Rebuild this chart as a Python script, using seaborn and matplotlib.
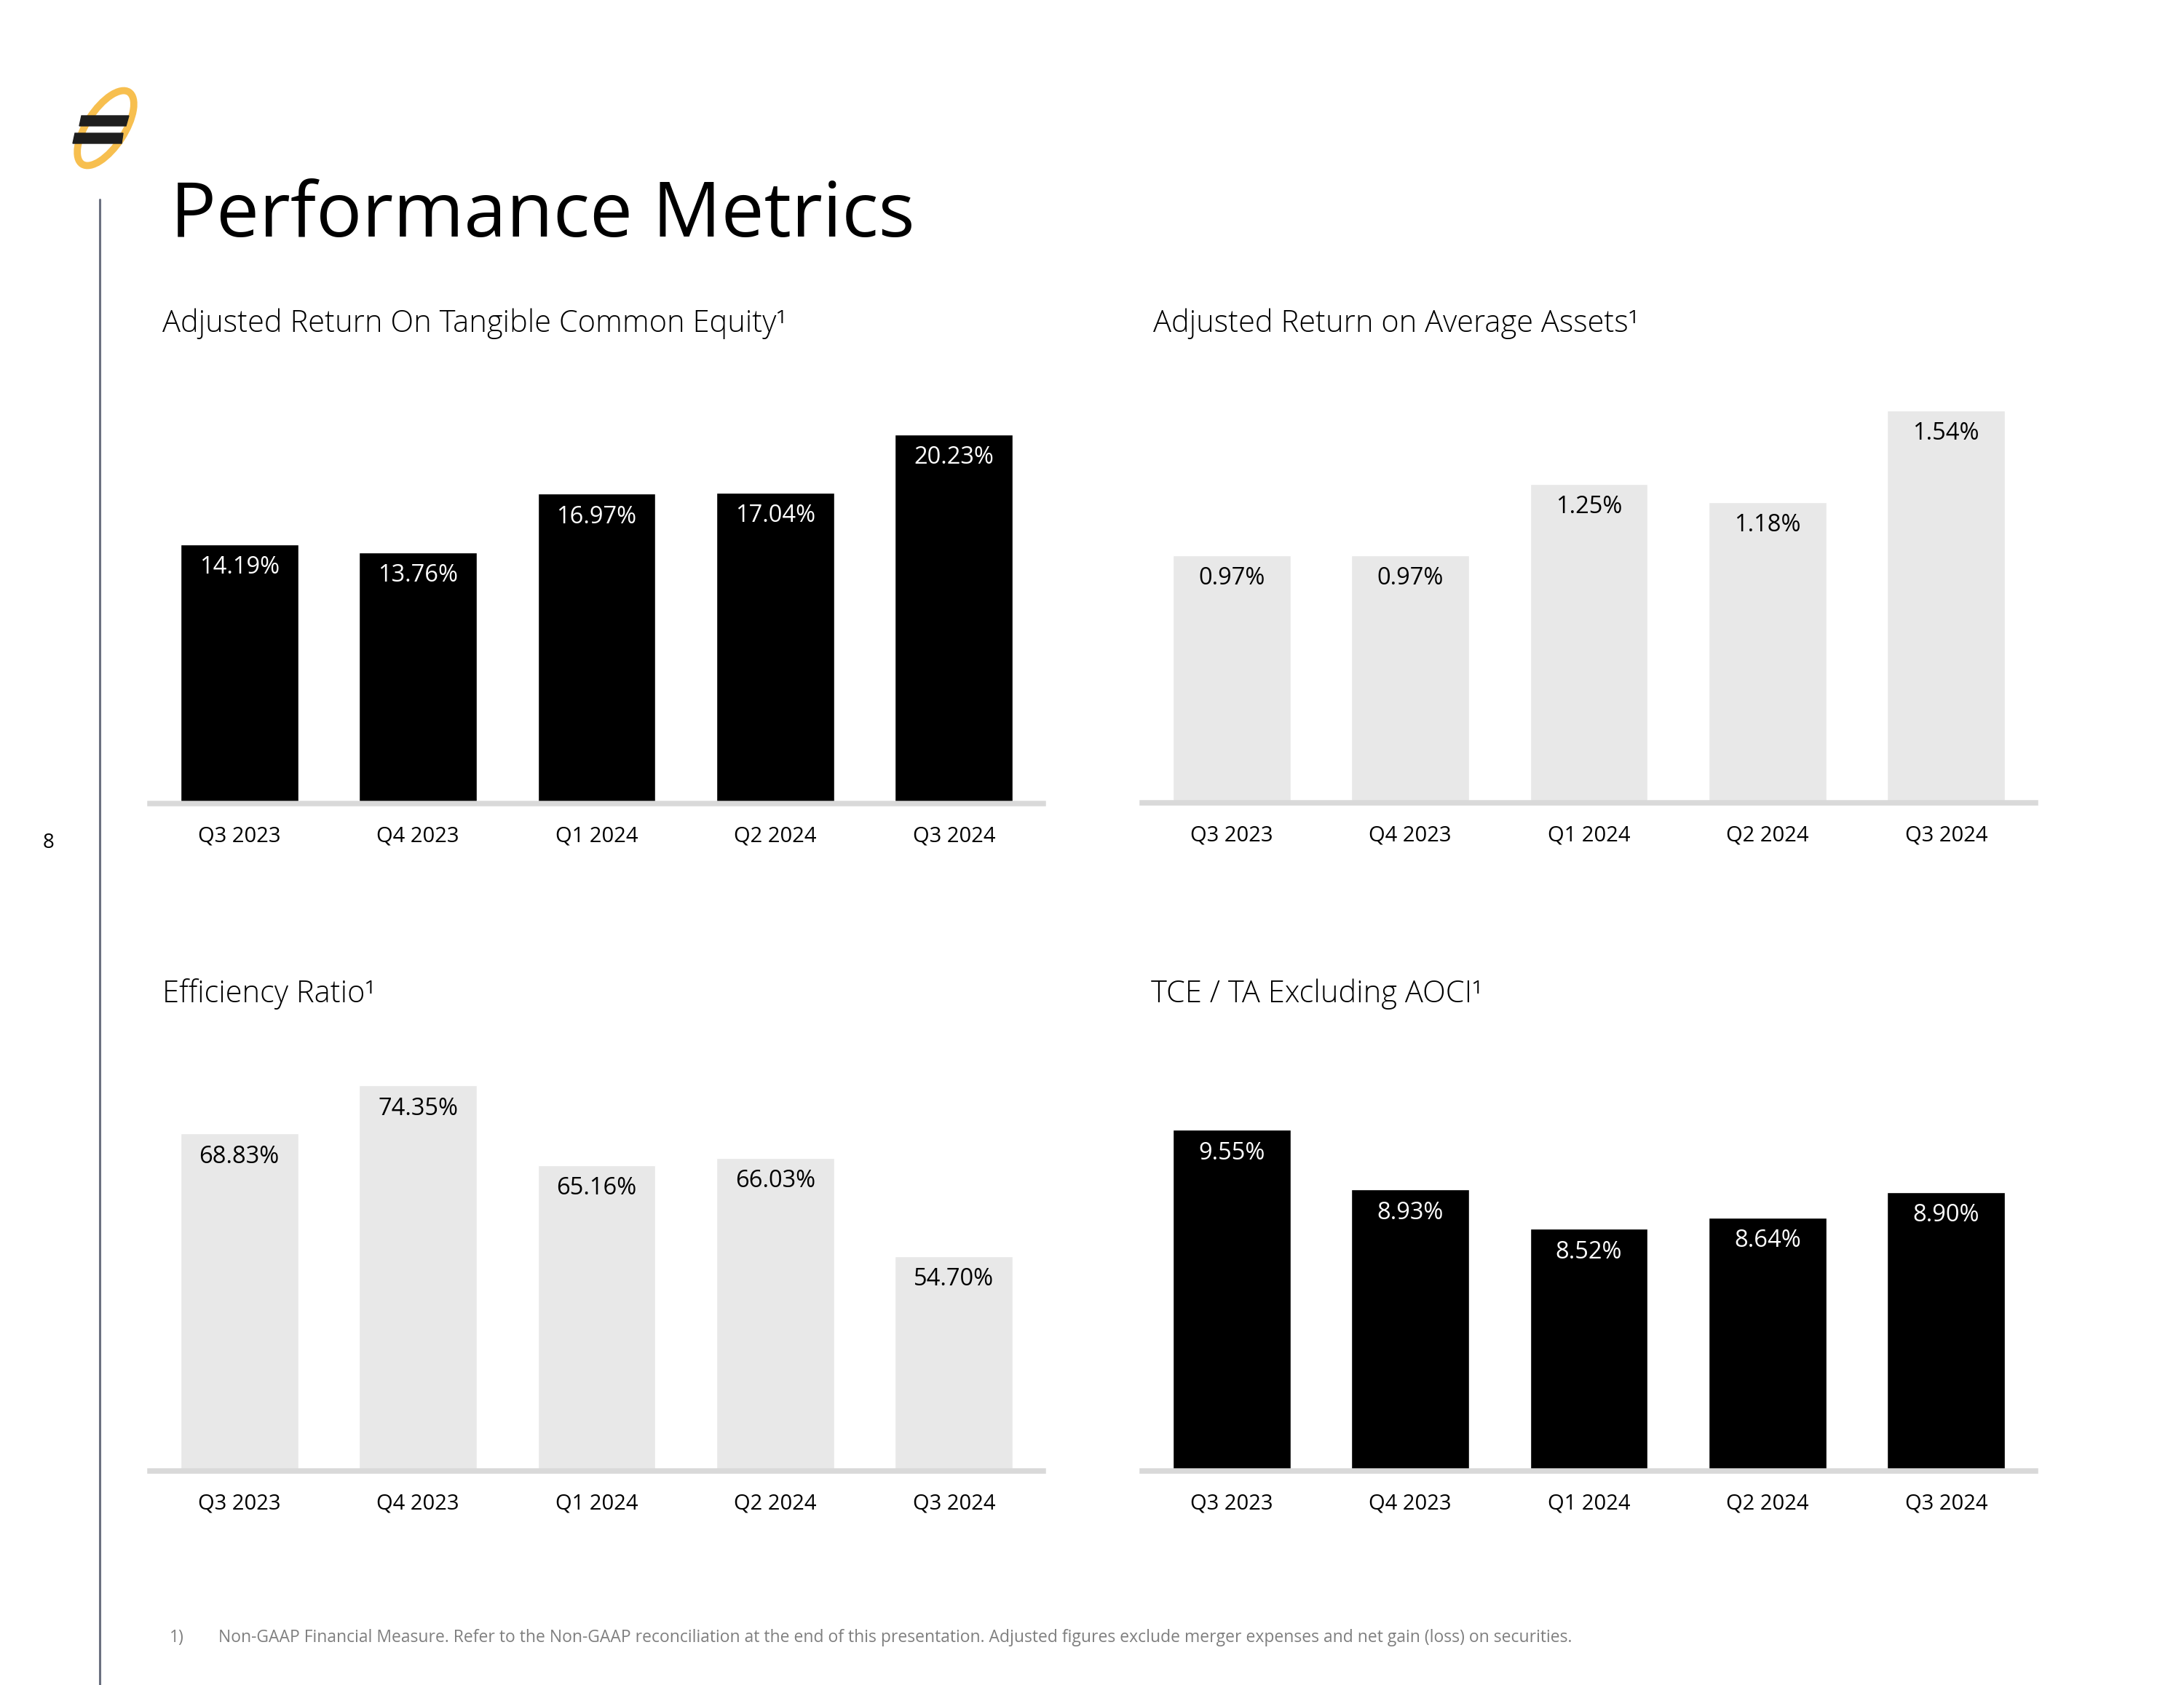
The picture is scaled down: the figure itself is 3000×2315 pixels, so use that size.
import pandas as pd
import seaborn as sns
import matplotlib.pyplot as plt
from matplotlib.patches import Ellipse, Polygon

# data
quarters = ["Q3 2023", "Q4 2023", "Q1 2024", "Q2 2024", "Q3 2024"]
rotce = [14.19, 13.76, 16.97, 17.04, 20.23]
roaa = [0.97, 0.97, 1.25, 1.18, 1.54]
efficiency = [68.83, 74.35, 65.16, 66.03, 54.70]
tce_ta = [9.55, 8.93, 8.52, 8.64, 8.90]

W, H = 3000, 2315
BLACK = "#000000"
GREY = "#E8E8E8"

sns.set_theme(style="white")
plt.rcParams['font.family'] = ['Open Sans', 'DejaVu Sans']
plt.rcParams['text.color'] = 'black'


def pos(left, top, right, bottom):
    # pixel box -> figure fraction
    return [left / W, 1 - bottom / H, (right - left) / W, (bottom - top) / H]


def bar_panel(ax, values, color, label_color, ylim):
    df = pd.DataFrame({"quarter": quarters, "value": values})
    sns.barplot(data=df, x="quarter", y="value", color=color, width=0.66,
                saturation=1, ax=ax)
    ax.set_ylim(*ylim)
    ax.set_xlim(-0.5, 4.5)
    ax.set_xlabel("")
    ax.set_ylabel("")
    ax.set_yticks([])
    sns.despine(ax=ax, left=True)
    ax.spines['bottom'].set_color("#D9D9D9")
    ax.spines['bottom'].set_linewidth(5.4)
    ax.tick_params(axis='x', length=0, pad=22, labelsize=21, labelcolor="#000000")
    ax.patch.set_alpha(0)
    for i, v in enumerate(values):
        ax.annotate(f"{v:.2f}%", (i, v), xytext=(0, -11), textcoords="offset points",
                    ha="center", va="top", fontsize=23.5, color=label_color)


fig = plt.figure(figsize=(W / 100, H / 100), dpi=100)

ax1 = fig.add_axes(pos(206, 477, 1433, 1104))
bar_panel(ax1, rotce, BLACK, "white", (0, 25.0))

ax2 = fig.add_axes(pos(1569, 477, 2796, 1103))
bar_panel(ax2, roaa, GREY, "black", (0, 1.787))

ax3 = fig.add_axes(pos(206, 1394, 1433, 2021))
bar_panel(ax3, efficiency, GREY, "black", (30, 82.5))

ax4 = fig.add_axes(pos(1569, 1394, 2796, 2021))
bar_panel(ax4, tce_ta, BLACK, "white", (6, 10.75))

# panel headings
head = dict(fontsize=30, va="baseline", fontweight="light")
fig.text(223 / W, 1 - 456 / H, "Adjusted Return On Tangible Common Equity\u00b9", **head)
fig.text(1584 / W, 1 - 456 / H, "Adjusted Return on Average Assets\u00b9", **head)
fig.text(223 / W, 1 - 1377 / H, "Efficiency Ratio\u00b9", **head)
fig.text(1581 / W, 1 - 1377 / H, "TCE / TA Excluding AOCI\u00b9", **head)

# slide title, page number, footnote
fig.text(234 / W, 1 - 325 / H, "Performance Metrics", fontsize=75.5, va="baseline")
fig.text(67 / W, 1 - 1158 / H, "8", fontsize=20, ha="center", va="center")
fig.text(233 / W, 1 - 2256 / H, "1)", fontsize=16.5, color="#7F7F7F", va="baseline")
fig.text(300 / W, 1 - 2256 / H,
         "Non-GAAP Financial Measure. Refer to the Non-GAAP reconciliation at the end of this "
         "presentation. Adjusted figures exclude merger expenses and net gain (loss) on securities.",
         fontsize=16.5, color="#7F7F7F", va="baseline")

# decorations: side rule and logo, in pixel coordinates
deco = fig.add_axes([0, 0, 1, 1])
deco.set_xlim(0, W)
deco.set_ylim(H, 0)
deco.axis("off")
deco.patch.set_alpha(0)
deco.plot([137, 137], [274, H], color="#6B7080", lw=2.2)
deco.add_patch(Ellipse((145, 176), 118, 52, angle=-57, fill=False,
                       edgecolor="#F7BF4F", lw=7))
deco.add_patch(Polygon([(112, 159), (177, 159), (173, 173), (109, 173)],
                       closed=True, color="#1E1E1E"))
deco.add_patch(Polygon([(103, 183), (169, 183), (167, 197), (100, 197)],
                       closed=True, color="#1E1E1E"))

fig.savefig("out.png", dpi=100)
